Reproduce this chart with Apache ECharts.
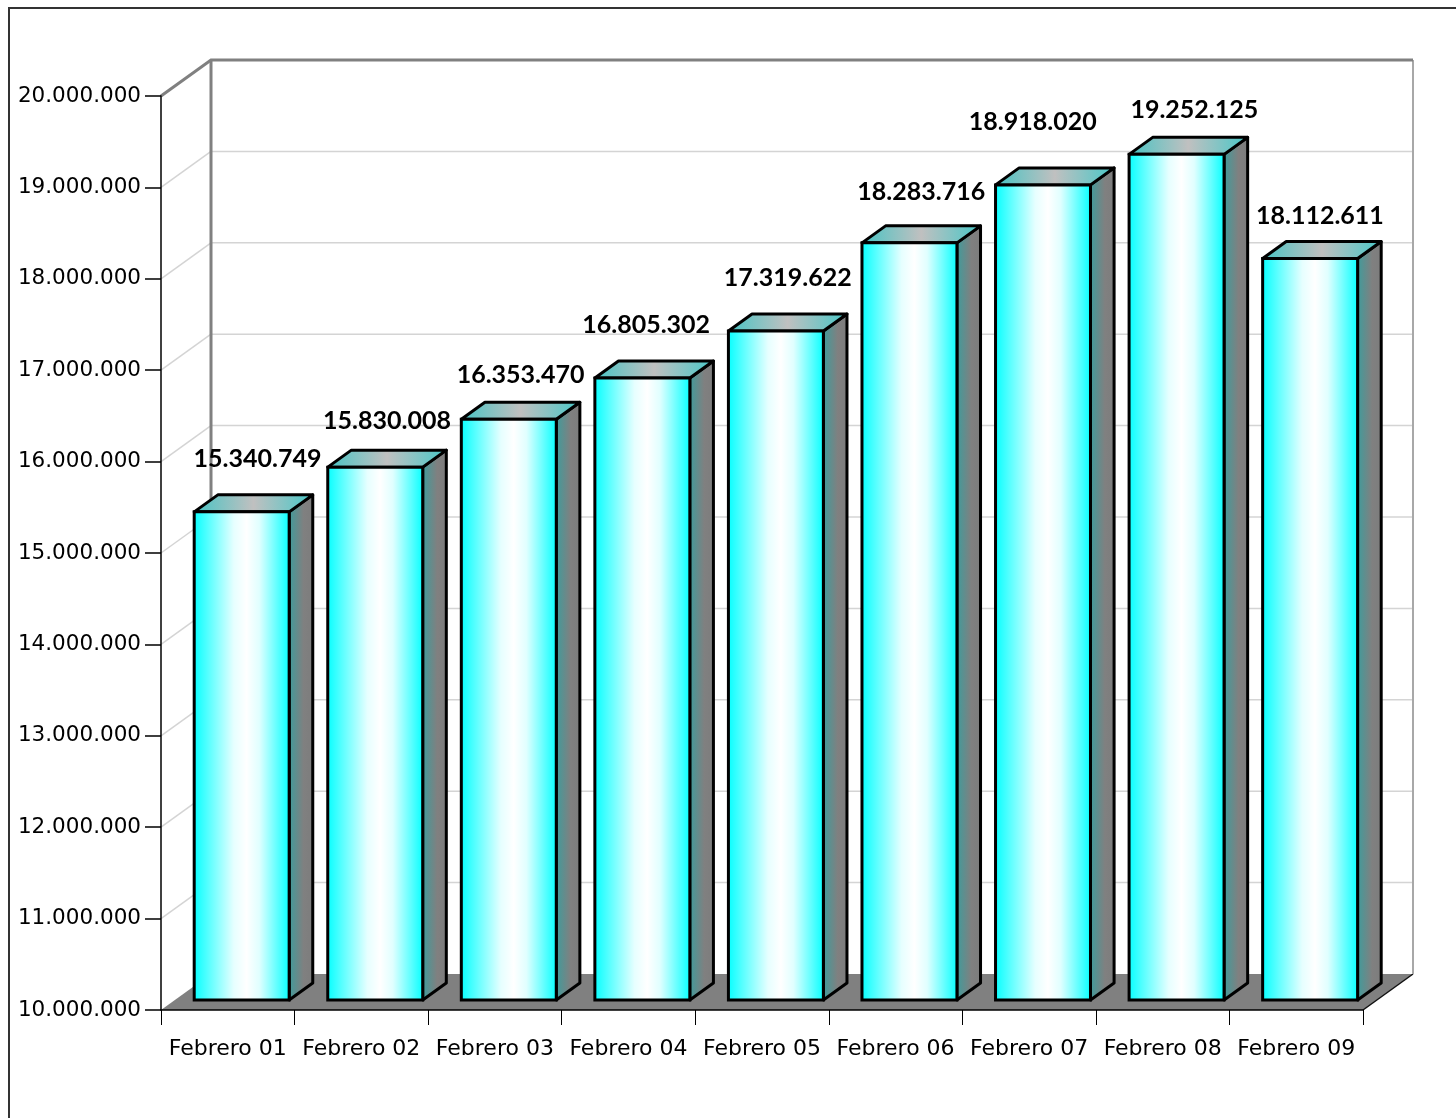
<!DOCTYPE html>
<html>
<head>
<meta charset="utf-8">
<script src="https://cdn.jsdelivr.net/npm/echarts@6/dist/echarts.min.js"></script>
<style>
html,body{margin:0;padding:0;background:#fff;}
#chart{width:1456px;height:1118px;}
</style>
</head>
<body>
<div id="chart"></div>
<script>
const categories = ['Febrero 01','Febrero 02','Febrero 03','Febrero 04','Febrero 05','Febrero 06','Febrero 07','Febrero 08','Febrero 09'];
const values = [15340749, 15830008, 16353470, 16805302, 17319622, 18283716, 18918020, 19252125, 18112611];
const yMin = 10000000;
const yMax = 20000000;
const yStep = 1000000;

// styling: depth of the 3D box, bar placement, label nudges (px)
const DX = 50, DY = -36;
const F0 = 0.278, F1 = 0.75;
const BAR_W = 0.711;
const labelNudgeX = [4, 0, 0, -8, 0, 0, -22, 6, -2];
const labelNudgeY = [0, 7, 9, 0, 0, 2, -10, 9, 10];

function fmt(n){ return String(Math.round(n)).replace(/\B(?=(\d{3})+(?!\d))/g,'.'); }

const tickValues = [];
for (let v = yMin; v <= yMax; v += yStep) tickValues.push(v);

const frontGrad = {type:'linear',x:0,y:0,x2:1,y2:0,colorStops:[
  {offset:0,color:'#00ffff'},{offset:0.42,color:'#e6ffff'},{offset:0.55,color:'#ffffff'},{offset:0.68,color:'#e0ffff'},{offset:1,color:'#00ffff'}]};
const sideGrad = {type:'linear',x:0,y:0,x2:1,y2:0,colorStops:[
  {offset:0,color:'#3a9e9e'},{offset:0.6,color:'#808080'},{offset:1,color:'#7c7c7c'}]};
const topGrad = {type:'linear',x:0,y:0,x2:1,y2:0,colorStops:[
  {offset:0,color:'#45c4c4'},{offset:0.5,color:'#c0c0c0'},{offset:1,color:'#45c8c8'}]};

function renderBackground(params, api){
  const cs = params.coordSys;
  const x0 = cs.x, x1 = cs.x + cs.width, yT = cs.y, yB = cs.y + cs.height;
  const ch = [];
  ch.push({type:'polygon', shape:{points:[[x0,yB],[x1,yB],[x1+DX,yB+DY],[x0+DX,yB+DY]]},
    style:{fill:'#808080', stroke:null}});
  ch.push({type:'line', shape:{x1:x1,y1:yB,x2:x1+DX,y2:yB+DY}, style:{stroke:'#111',lineWidth:1.5}});
  tickValues.forEach(function(v){
    if (v <= yMin || v >= yMax) return;
    const y = api.coord([0, v])[1];
    ch.push({type:'line', shape:{x1:x0+DX,y1:y+DY,x2:x1+DX,y2:y+DY}, style:{stroke:'#d4d4d4',lineWidth:1.5}});
    ch.push({type:'line', shape:{x1:x0,y1:y,x2:x0+DX,y2:y+DY}, style:{stroke:'#d4d4d4',lineWidth:1.5}});
  });
  ch.push({type:'line', shape:{x1:x1+DX,y1:yT+DY,x2:x1+DX,y2:yB+DY}, style:{stroke:'#a8a8a8',lineWidth:2}});
  ch.push({type:'line', shape:{x1:x0+DX,y1:yT+DY,x2:x0+DX,y2:yB+DY}, style:{stroke:'#808080',lineWidth:3}});
  ch.push({type:'polyline', shape:{points:[[x0,yT],[x0+DX,yT+DY],[x1+DX,yT+DY]]}, style:{stroke:'#808080',lineWidth:3,fill:null}});
  return {type:'group', children:ch};
}

function renderBar(params, api){
  const i = api.value(0), v = api.value(1);
  const top = api.coord([i, v]);
  const bot = api.coord([i, yMin]);
  const band = api.size([1, 0])[0];
  const bw = band * BAR_W;
  const ox = DX*F0, oy = DY*F0;
  const ddx = DX*(F1-F0), ddy = DY*(F1-F0);
  const xl = top[0] - bw/2 + ox, xr = top[0] + bw/2 + ox;
  const yt = top[1] + oy, yb = bot[1] + oy;
  const idx = params.dataIndex;
  return {type:'group', children:[
    {type:'polygon', shape:{points:[[xr,yt],[xr+ddx,yt+ddy],[xr+ddx,yb+ddy],[xr,yb]]},
      style:{fill:sideGrad, stroke:'#000', lineWidth:3, lineJoin:'round'}},
    {type:'polygon', shape:{points:[[xl,yt],[xr,yt],[xr+ddx,yt+ddy],[xl+ddx,yt+ddy]]},
      style:{fill:topGrad, stroke:'#000', lineWidth:3, lineJoin:'round'}},
    {type:'rect', shape:{x:xl, y:yt, width:xr-xl, height:yb-yt},
      style:{fill:frontGrad, stroke:'#000', lineWidth:3}},
    {type:'text', style:{text:fmt(v), x:(xl+xr+ddx)/2 + labelNudgeX[idx], y:yt+ddy-36 + labelNudgeY[idx],
      align:'center', verticalAlign:'middle',
      fontFamily:'Lato', fontWeight:'bold', fontSize:25, fill:'#000'}}
  ]};
}

const chart = echarts.init(document.getElementById('chart'), null, {renderer:'canvas'});
chart.setOption({
  animation:false,
  backgroundColor:'#ffffff',
  graphic:[{type:'rect', shape:{x:9,y:8,width:1470,height:1130}, style:{fill:null, stroke:'#333', lineWidth:2}, z:100}],
  grid:{left:161, right:93, top:96, bottom:108, containLabel:false},
  xAxis:{type:'category', data:categories, z:10,
    axisLine:{lineStyle:{color:'#000',width:1.5}},
    axisTick:{show:true, interval:0, length:15, lineStyle:{color:'#000',width:1}},
    axisLabel:{interval:0, margin:28, fontFamily:'DejaVu Sans', fontSize:22, color:'#000'}},
  yAxis:{type:'value', min:yMin, max:yMax, interval:yStep, z:10,
    axisLine:{show:true, lineStyle:{color:'#000',width:1.5}},
    axisTick:{show:true, length:16, lineStyle:{color:'#000',width:1.5}},
    splitLine:{show:false},
    axisLabel:{margin:20, fontFamily:'DejaVu Sans', fontSize:21.5, color:'#000', formatter:function(v){return fmt(v);}}},
  series:[
    {type:'custom', z:1, renderItem:renderBackground, data:[[0, yMin]], silent:true},
    {type:'custom', z:2, renderItem:renderBar, data:values.map(function(v,i){return [i,v];})}
  ]
});
</script>
</body>
</html>
